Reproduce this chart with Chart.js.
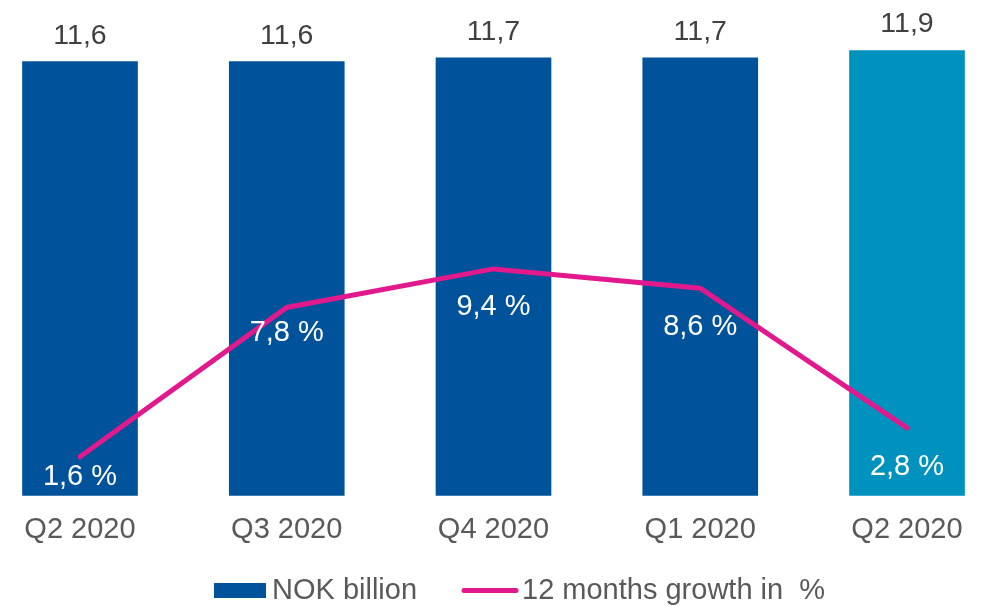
<!DOCTYPE html>
<html>
<head>
<meta charset="utf-8">
<title>NOK billion and 12 months growth</title>
<script src="https://cdn.jsdelivr.net/npm/chart.js@4.4.1/dist/chart.umd.min.js"></script>
<style>
  html, body { margin: 0; padding: 0; background: #ffffff; }
  #wrap { width: 987px; height: 606px; position: relative; }
</style>
</head>
<body>
<div id="wrap"><canvas id="chart"></canvas></div>
<script>
// Quarterly figures
const quarters = ['Q2 2020', 'Q3 2020', 'Q4 2020', 'Q1 2020', 'Q2 2020'];
const nokBillion = [11.6, 11.6, 11.7, 11.7, 11.9];
const growthPct = [1.6, 7.8, 9.4, 8.6, 2.8];
const seriesNames = ['NOK billion', '12 months growth in  %'];

// Styling
const BAR_BLUE = '#00539B';
const BAR_LATEST = '#0092BE';
const LINE_PINK = '#E2198C';
const TEXT_GREY = '#595959';
const VALUE_GREY = '#404040';
const FONT = '"Liberation Sans", Arial, Helvetica, sans-serif';
// vertical distance from each growth point down to its label baseline
const growthLabelDrop = [28, 34, 46, 47, 47];

const fmt = v => v.toFixed(1).replace('.', ',');

const labelPlugin = {
  id: 'valueLabels',
  afterDatasetsDraw(chart) {
    const ctx = chart.ctx;
    ctx.save();
    ctx.textAlign = 'center';
    ctx.textBaseline = 'alphabetic';

    // bar totals above each bar
    const bars = chart.getDatasetMeta(1).data;
    ctx.font = '28.5px ' + FONT;
    ctx.fillStyle = VALUE_GREY;
    bars.forEach((bar, i) => {
      ctx.fillText(fmt(nokBillion[i]), bar.x, bar.y - 18);
    });

    // growth figures inside the bars
    const pts = chart.getDatasetMeta(0).data;
    ctx.font = '29px ' + FONT;
    ctx.fillStyle = '#ffffff';
    pts.forEach((p, i) => {
      ctx.fillText(fmt(growthPct[i]) + ' %', p.x, p.y + growthLabelDrop[i]);
    });
    ctx.restore();
  },
  afterDraw(chart) {
    // legend row along the bottom
    const ctx = chart.ctx;
    ctx.save();
    ctx.fillStyle = BAR_BLUE;
    ctx.fillRect(214, 583, 52, 15);
    ctx.strokeStyle = LINE_PINK;
    ctx.lineWidth = 5;
    ctx.lineCap = 'round';
    ctx.beginPath();
    ctx.moveTo(464, 590.5);
    ctx.lineTo(516, 590.5);
    ctx.stroke();
    ctx.font = '29px ' + FONT;
    ctx.fillStyle = TEXT_GREY;
    ctx.textAlign = 'left';
    ctx.textBaseline = 'alphabetic';
    ctx.fillText(seriesNames[0], 272, 599);
    ctx.fillText(seriesNames[1], 522, 599);
    ctx.restore();
  }
};

new Chart(document.getElementById('chart'), {
  data: {
    labels: quarters,
    datasets: [
      {
        type: 'line',
        label: seriesNames[1],
        data: growthPct,
        yAxisID: 'yGrowth',
        borderColor: LINE_PINK,
        borderWidth: 5,
        borderCapStyle: 'round',
        borderJoinStyle: 'miter',
        pointRadius: 0,
        pointHoverRadius: 0,
        tension: 0,
        fill: false,
        order: 0
      },
      {
        type: 'bar',
        label: seriesNames[0],
        data: nokBillion,
        yAxisID: 'yNok',
        backgroundColor: nokBillion.map((_, i) => i === nokBillion.length - 1 ? BAR_LATEST : BAR_BLUE),
        borderWidth: 0,
        barThickness: 115,
        clip: false,
        order: 1
      }
    ]
  },
  options: {
    responsive: true,
    maintainAspectRatio: false,
    animation: false,
    layout: { padding: { top: 0, left: 80, right: 80, bottom: 41 } },
    plugins: {
      legend: { display: false },
      tooltip: { enabled: false }
    },
    scales: {
      x: {
        type: 'category',
        offset: false,
        grid: { display: false, drawTicks: false },
        border: { display: false },
        ticks: {
          color: TEXT_GREY,
          font: { family: FONT, size: 29 },
          padding: 17.4,
          maxRotation: 0,
          autoSkip: false
        }
      },
      yNok: {
        type: 'linear',
        display: false,
        min: 0,
        max: 13.25
      },
      yGrowth: {
        type: 'linear',
        display: false,
        min: 0,
        max: 20.56
      }
    }
  },
  plugins: [labelPlugin]
});
</script>
</body>
</html>
